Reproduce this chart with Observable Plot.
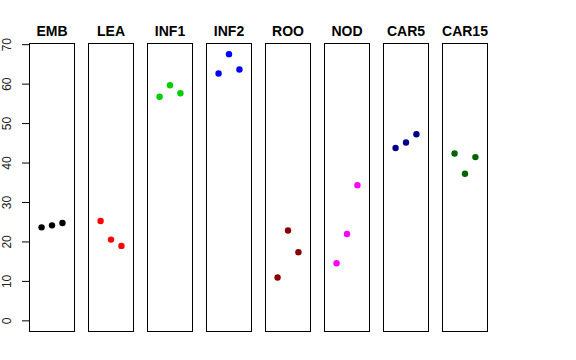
<!DOCTYPE html>
<html>
<head>
<meta charset="utf-8">
<script src="https://cdn.jsdelivr.net/npm/d3@7"></script>
<script src="https://cdn.jsdelivr.net/npm/@observablehq/plot@0.6"></script>
<style>
  html, body { margin: 0; padding: 0; background: #fff; }
  svg { font-family: "Liberation Sans", Arial, Helvetica, sans-serif; }
</style>
</head>
<body>
<div id="chart"></div>
<script>
const groups = ["EMB", "LEA", "INF1", "INF2", "ROO", "NOD", "CAR5", "CAR15"];
const colors = ["#000000", "#FF0000", "#00CD00", "#0000FF", "#8B0000", "#FF00FF", "#00008B", "#006400"];
const rep1 = [23.7, 25.3, 56.8, 62.7, 11.0, 14.6, 43.8, 42.4];
const rep2 = [24.2, 20.6, 59.7, 67.6, 22.9, 22.0, 45.2, 37.3];
const rep3 = [24.8, 19.0, 57.7, 63.7, 17.4, 34.4, 47.3, 41.5];
const yTicks = [0, 10, 20, 30, 40, 50, 60, 70];

const rows = [];
groups.forEach((g, i) => {
  [rep1, rep2, rep3].forEach((rep, j) => {
    rows.push({group: g, rep: j + 1, value: rep[i]});
  });
});

const chart = Plot.plot({
  width: 576,
  height: 360,
  marginLeft: 29,
  marginRight: 89,
  marginTop: 43,
  marginBottom: 29,
  style: {fontFamily: "'Liberation Sans', Arial, Helvetica, sans-serif", background: "#fff"},
  fx: {domain: groups, paddingInner: 0.237, paddingOuter: 0, round: false, axis: null},
  x: {domain: [-0.16, 4.16], axis: null},
  y: {domain: [-2.7, 70.3], axis: null},
  color: {domain: groups, range: colors},
  marks: [
    Plot.frame({stroke: "#000", strokeWidth: 1}),
    Plot.axisFx({anchor: "top", tickSize: 0, tickPadding: 8, fontSize: 14, fontWeight: "bold", label: null, fill: "#000"}),
    Plot.axisY(yTicks, {anchor: "left", tickSize: 7, tickPadding: 12, tickRotate: -90, fontSize: 12, label: null, stroke: "#000", fill: "#222"}),
    Plot.dot(rows, {fx: "group", x: "rep", y: "value", r: 3.2, fill: "group", stroke: null})
  ]
});
document.getElementById("chart").appendChild(chart);
</script>
</body>
</html>
